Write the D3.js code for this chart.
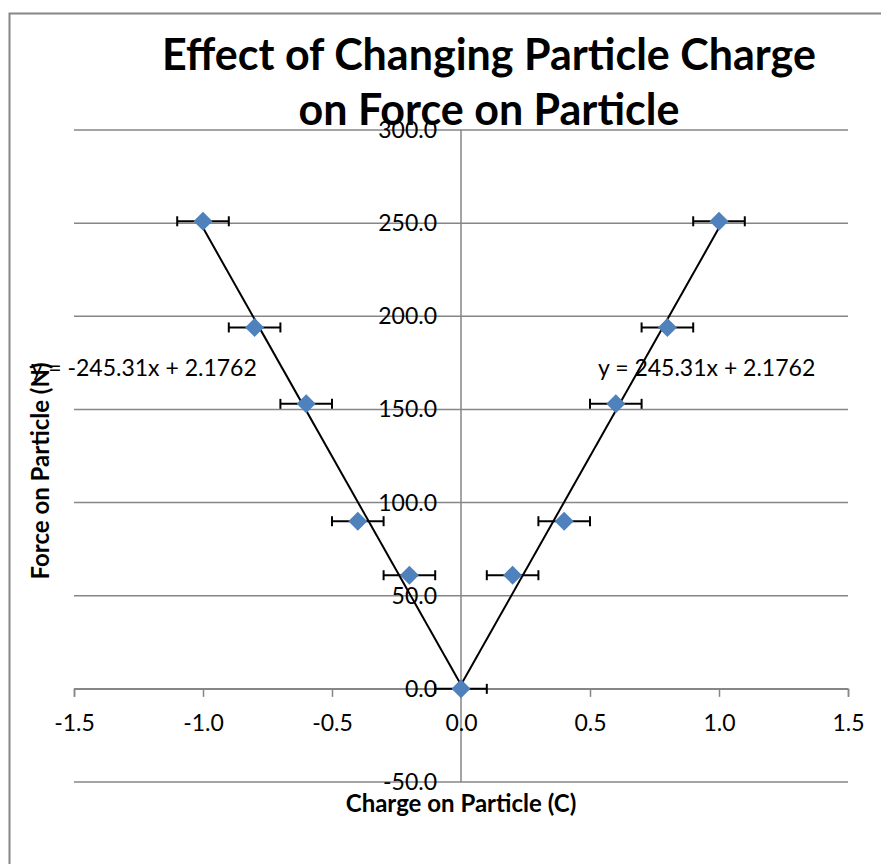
<!DOCTYPE html>
<html>
<head>
<meta charset="utf-8">
<script src="https://cdn.jsdelivr.net/npm/d3@7"></script>
<style>
  body { margin: 0; background: #fff; }
  text { font-family: Lato, "Open Sans", sans-serif; }
</style>
</head>
<body>
<div id="chart"></div>
<script>
// data
const charges = [-1.0, -0.8, -0.6, -0.4, -0.2, 0.0, 0.2, 0.4, 0.6, 0.8, 1.0];
const forces = [251, 194, 153, 90, 61, 0, 61, 90, 153, 194, 251];
const chargeError = 0.1;
const xTicks = [-1.5, -1.0, -0.5, 0.0, 0.5, 1.0, 1.5];
const yTicks = [-50, 0, 50, 100, 150, 200, 250, 300];
const trendLeft = { slope: -245.31, intercept: 2.1762, from: -1, to: 0, label: "y = -245.31x + 2.1762" };
const trendRight = { slope: 245.31, intercept: 2.1762, from: 0, to: 1, label: "y = 245.31x + 2.1762" };

const width = 881;
const height = 864;
const gridColor = "#868686";
const markerColor = "#4F81BD";
const fmt = d => d3.format(".1f")(d).replace("−", "-");

const svg = d3.select("#chart")
  .append("svg")
  .attr("width", width)
  .attr("height", height);

// chart border
svg.append("rect")
  .attr("x", 9.5).attr("y", 13.5)
  .attr("width", 880).attr("height", 870)
  .attr("fill", "#fff")
  .attr("stroke", gridColor)
  .attr("stroke-width", 2);

const x = d3.scaleLinear().domain([-1.5, 1.5]).range([74, 848]);
const y = d3.scaleLinear().domain([-50, 300]).range([782, 130]);

// horizontal gridlines
svg.append("g")
  .selectAll("line")
  .data(yTicks)
  .join("line")
  .attr("x1", x(-1.5)).attr("x2", x(1.5))
  .attr("y1", d => y(d)).attr("y2", d => y(d))
  .attr("stroke", gridColor)
  .attr("stroke-width", 1.5);

// vertical axis at x = 0
svg.append("line")
  .attr("x1", x(0)).attr("x2", x(0))
  .attr("y1", y(300)).attr("y2", y(-50))
  .attr("stroke", gridColor)
  .attr("stroke-width", 1.5);

// x axis at y = 0
const xAxis = svg.append("g")
  .attr("transform", `translate(0,${y(0)})`)
  .call(d3.axisBottom(x).tickValues(xTicks).tickFormat(fmt).tickSize(8).tickPadding(18));
xAxis.select(".domain").attr("stroke", gridColor).attr("stroke-width", 1.5);
xAxis.selectAll(".tick line").attr("stroke", gridColor).attr("stroke-width", 1.5);
xAxis.selectAll(".tick text")
  .attr("font-family", "Lato, sans-serif")
  .attr("font-size", 23)
  .attr("fill", "#000");

// y tick labels, left of the vertical axis
svg.append("g")
  .selectAll("text")
  .data(yTicks)
  .join("text")
  .attr("x", x(0) - 24)
  .attr("y", d => y(d))
  .attr("dy", "0.35em")
  .attr("text-anchor", "end")
  .attr("font-size", 23)
  .text(fmt);

// trendlines
[trendLeft, trendRight].forEach(t => {
  svg.append("line")
    .attr("x1", x(t.from)).attr("y1", y(t.slope * t.from + t.intercept))
    .attr("x2", x(t.to)).attr("y2", y(t.slope * t.to + t.intercept))
    .attr("stroke", "#000")
    .attr("stroke-width", 2);
});

const points = charges.map((c, i) => ({ c: c, f: forces[i] }));

// horizontal error bars
const errs = svg.append("g").attr("stroke", "#000").attr("stroke-width", 2);
points.forEach(p => {
  errs.append("line")
    .attr("x1", x(p.c - chargeError)).attr("x2", x(p.c + chargeError))
    .attr("y1", y(p.f)).attr("y2", y(p.f));
  [p.c - chargeError, p.c + chargeError].forEach(e => {
    errs.append("line")
      .attr("x1", x(e)).attr("x2", x(e))
      .attr("y1", y(p.f) - 5).attr("y2", y(p.f) + 5);
  });
});

// diamond markers
svg.append("g")
  .selectAll("path")
  .data(points)
  .join("path")
  .attr("d", d3.symbol(d3.symbolSquare, 180))
  .attr("transform", d => `translate(${x(d.c)},${y(d.f)}) rotate(45)`)
  .attr("fill", markerColor);

// trendline equations
svg.append("text")
  .attr("x", 31).attr("y", 376)
  .attr("font-size", 23)
  .text(trendLeft.label);
svg.append("text")
  .attr("x", 598).attr("y", 376)
  .attr("font-size", 23)
  .text(trendRight.label);

// title
const title = svg.append("text")
  .attr("text-anchor", "middle")
  .attr("font-size", 43)
  .attr("font-weight", "bold");
title.append("tspan").attr("x", 489).attr("y", 70).text("Effect of Changing Particle Charge");
title.append("tspan").attr("x", 489).attr("y", 125).text("on Force on Particle");

// axis titles
svg.append("text")
  .attr("x", x(0)).attr("y", 812)
  .attr("text-anchor", "middle")
  .attr("font-size", 24)
  .attr("font-weight", "bold")
  .text("Charge on Particle (C)");

svg.append("text")
  .attr("transform", "translate(49,471) rotate(-90)")
  .attr("text-anchor", "middle")
  .attr("font-size", 24)
  .attr("font-weight", "bold")
  .text("Force on Particle (N)");
</script>
</body>
</html>
